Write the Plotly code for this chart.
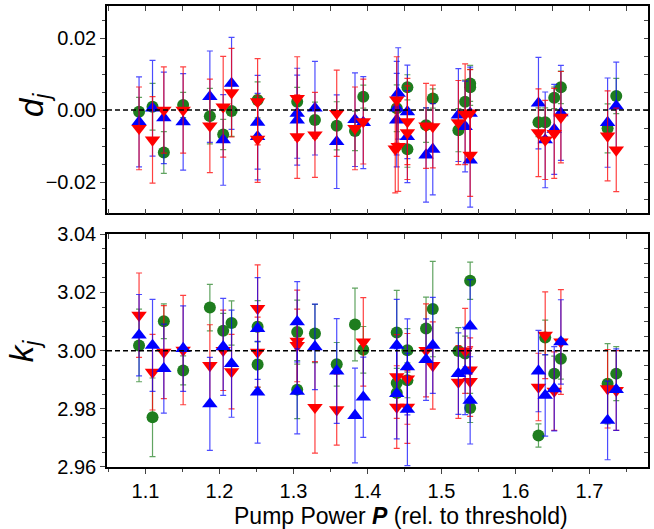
import plotly.graph_objects as go

# ---------------- data: top panel (d_j) ----------------
P_red_d = [1.0913, 1.1095, 1.1248, 1.1509, 1.187, 1.205, 1.2163, 1.2515, 1.2515, 1.305, 1.305, 1.329,
           1.3584, 1.3831, 1.3943, 1.4395, 1.4375, 1.4415, 1.4539, 1.4539, 1.4791, 1.4882, 1.5228, 1.5319,
           1.5387, 1.5387, 1.631, 1.6401, 1.6523, 1.6613, 1.7244, 1.7361]
d_red = [-0.0051, -0.0083, 0.0, 0.0, -0.0044, 0.0009, 0.0048, 0.0023, -0.0081, 0.0032, -0.0074, -0.0069,
         -0.0009, -0.0051, -0.0032, 0.0028, -0.0108, -0.0101, -0.0032, -0.0063, -0.0044, -0.0046, -0.0035, -0.0012,
         -0.0008, -0.0125, -0.0063, -0.0083, -0.0065, -0.0020, -0.0072, -0.0111]
err_red_d = [0.0115, 0.012, 0.012, 0.012, 0.013, 0.014, 0.0123, 0.012, 0.012, 0.0116, 0.0116, 0.0118,
             0.012, 0.0115, 0.0118, 0.012, 0.0122, 0.0125, 0.012, 0.013, 0.0118, 0.0115, 0.0117, 0.014,
             0.012, 0.0115, 0.0122, 0.011, 0.0125, 0.0127, 0.0125, 0.0116]

P_blue_d = [1.0913, 1.1095, 1.1248, 1.1509, 1.187, 1.205, 1.2163, 1.2515, 1.2515, 1.305, 1.305, 1.329,
            1.3584, 1.3831, 1.3943, 1.4395, 1.4395, 1.4415, 1.4539, 1.4539, 1.4791, 1.4882, 1.5228, 1.5319,
            1.5387, 1.5387, 1.631, 1.6401, 1.6523, 1.6613, 1.7244, 1.7361]
d_blue = [-0.0033, 0.0005, -0.0022, -0.0033, 0.0037, -0.0083, 0.0074, -0.0034, -0.0074, -0.0009, -0.0028, 0.0005,
          -0.0088, -0.0027, -0.0035, 0.0005, -0.0028, 0.0046, -0.0005, -0.0074, -0.0125, -0.0109, -0.0014, -0.0046,
          -0.0009, -0.0139, 0.0019, -0.0083, -0.0054, -0.0008, -0.0035, 0.0011]
err_blue_d = [0.0125, 0.0133, 0.0127, 0.0134, 0.0127, 0.0126, 0.0128, 0.013, 0.012, 0.0125, 0.0125, 0.013,
              0.013, 0.013, 0.0128, 0.013, 0.013, 0.0127, 0.013, 0.0128, 0.0131, 0.0127, 0.0129, 0.0126,
              0.0128, 0.0131, 0.0127, 0.0133, 0.0125, 0.0132, 0.0124, 0.0122]

P_green_d = [1.0913, 1.1095, 1.1248, 1.1509, 1.187, 1.205, 1.2163, 1.2515, 1.305, 1.329, 1.3584, 1.3831,
             1.3943, 1.4395, 1.4539, 1.4539, 1.4791, 1.4882, 1.5228, 1.5319, 1.5387, 1.5387, 1.631, 1.6401,
             1.6523, 1.6613, 1.7244, 1.7361]
d_green = [-0.0005, 0.0009, -0.0118, 0.0014, -0.0017, -0.0068, -0.0003, 0.0028, 0.0023, -0.0028, -0.0044, -0.0058,
           0.0037, 0.0005, 0.0063, -0.0109, -0.0042, 0.0032, -0.0056, 0.0023, 0.0074, 0.0063, -0.0034, -0.0034,
           0.0034, 0.0063, -0.0051, 0.0039]
err_green_d = [0.004, 0.0065, 0.0058, 0.0035, 0.0077, 0.0042, 0.007, 0.005, 0.004, 0.005, 0.0067, 0.0055,
               0.0032, 0.0065, 0.0035, 0.005, 0.0048, 0.0027, 0.006, 0.006, 0.005, 0.005, 0.004, 0.004,
               0.003, 0.0045, 0.0068, 0.0049]

# ---------------- data: bottom panel (k_j) ----------------
P_red_k = [1.0913, 1.1095, 1.1248, 1.1509, 1.187, 1.205, 1.2163, 1.2515, 1.2515, 1.305, 1.305, 1.329,
           1.3584, 1.3943, 1.4395, 1.4395, 1.4539, 1.4539, 1.4791, 1.4882, 1.5228, 1.5319, 1.5387, 1.5387,
           1.631, 1.6401, 1.6523, 1.6613, 1.7244, 1.7361]
k_red = [3.0122, 2.9926, 2.9995, 3.0002, 2.9949, 3.0001, 2.9928, 3.0145, 2.9995, 3.0033, 3.0018, 2.9805,
         2.9797, 3.0030, 2.9911, 2.9806, 2.9903, 2.9806, 3.0001, 2.9949, 2.9892, 2.9999, 2.9934, 2.9894,
         2.9875, 3.0053, 2.9861, 3.0030, 2.9869, 2.9863]
err_red_k = [0.0145, 0.013, 0.016, 0.0188, 0.014, 0.0138, 0.0128, 0.015, 0.012, 0.0175, 0.0125, 0.0157,
             0.0122, 0.0152, 0.0144, 0.0142, 0.0156, 0.0125, 0.016, 0.015, 0.0125, 0.0146, 0.011, 0.012,
             0.0116, 0.0149, 0.0135, 0.018, 0.0135, 0.0137]

P_blue_k = [1.0913, 1.1095, 1.1248, 1.1509, 1.187, 1.205, 1.2163, 1.2515, 1.2515, 1.305, 1.305, 1.329,
            1.3584, 1.3831, 1.3943, 1.4395, 1.4395, 1.4539, 1.4539, 1.4791, 1.4882, 1.5228, 1.5319, 1.5387,
            1.5387, 1.631, 1.6401, 1.6523, 1.6613, 1.7244, 1.7361]
k_blue = [3.0053, 3.0018, 2.9938, 3.0007, 2.9817, 3.0013, 2.9955, 3.0076, 2.9857, 3.0099, 2.9860, 3.0013,
          2.9930, 2.9777, 2.9840, 3.0018, 2.9852, 2.9944, 2.9798, 2.9969, 3.0018, 2.9921, 2.9930, 3.0084,
          2.9829, 2.9930, 2.9846, 2.9869, 3.0030, 2.9760, 2.9866]
err_blue_k = [0.014, 0.0158, 0.0153, 0.0147, 0.016, 0.0167, 0.0184, 0.0175, 0.0175, 0.0138, 0.0146, 0.0147,
              0.018, 0.0163, 0.0138, 0.0158, 0.0155, 0.0165, 0.0193, 0.014, 0.0165, 0.014, 0.015, 0.016,
              0.015, 0.014, 0.014, 0.0145, 0.0145, 0.0135, 0.014]

P_green_k = [1.0913, 1.1095, 1.1248, 1.1509, 1.187, 1.205, 1.2163, 1.2515, 1.2515, 1.305, 1.305, 1.329,
             1.3584, 1.3831, 1.3943, 1.4395, 1.4395, 1.4395, 1.4539, 1.4539, 1.4791, 1.4882, 1.5228, 1.5319,
             1.5387, 1.5387, 1.631, 1.6401, 1.6523, 1.6613, 1.7244, 1.7361]
k_green = [3.0018, 2.9771, 3.0101, 2.9932, 3.0148, 3.0068, 3.0095, 3.0082, 2.9952, 3.0064, 2.9866, 3.0059,
           2.9953, 3.0090, 3.0003, 3.0062, 2.9889, 2.9854, 3.0001, 2.9898, 3.0076, 3.0143, 2.9999, 2.9990,
           3.0240, 2.9803, 2.9708, 3.0045, 2.9921, 2.9972, 2.9886, 2.9921]
err_green_k = [0.0125, 0.0135, 0.006, 0.005, 0.008, 0.006, 0.0076, 0.009, 0.0078, 0.011, 0.01, 0.01,
               0.0075, 0.0125, 0.008, 0.0145, 0.005, 0.005, 0.0075, 0.006, 0.0108, 0.0164, 0.008, 0.006,
               0.0064, 0.005, 0.004, 0.006, 0.006, 0.007, 0.0138, 0.0093]

ref_d = 0.0
ref_k = 3.0
x_range = [1.048, 1.779]
d_range = [-0.0287, 0.0289]
k_range = [2.96, 3.04]

RED = "#ff0000"
BLUE = "#0000ff"
GREEN = "#1e7d1e"
ERR = {RED: "rgba(255,0,0,0.75)", BLUE: "rgba(0,0,255,0.7)", GREEN: "rgba(30,125,30,0.7)"}
FONT = "Liberation Sans, Arial, sans-serif"

fig = go.Figure()


def add(P, v, e, color, symbol, size, xa, ya):
    fig.add_trace(go.Scatter(
        x=P, y=v, mode="markers", xaxis=xa, yaxis=ya, showlegend=False,
        marker=dict(color=color, symbol=symbol, size=size, line=dict(width=0)),
        error_y=dict(type="data", array=e, visible=True, color=ERR[color], thickness=1.2, width=3),
    ))


# top panel: green, blue, red (red on top)
add(P_green_d, d_green, err_green_d, GREEN, "circle", 12, "x", "y")
add(P_blue_d, d_blue, err_blue_d, BLUE, "triangle-up", 13.5, "x", "y")
add(P_red_d, d_red, err_red_d, RED, "triangle-down", 13.5, "x", "y")
# bottom panel: green, red, blue (blue on top)
add(P_green_k, k_green, err_green_k, GREEN, "circle", 12, "x2", "y2")
add(P_red_k, k_red, err_red_k, RED, "triangle-down", 13.5, "x2", "y2")
add(P_blue_k, k_blue, err_blue_k, BLUE, "triangle-up", 13.5, "x2", "y2")

# empty traces to activate mirror-tick overlay axes
for xa, ya in [("x3", "y2"), ("x", "y3"), ("x2", "y4")]:
    fig.add_trace(go.Scatter(x=[], y=[], xaxis=xa, yaxis=ya, showlegend=False, hoverinfo="skip"))

# dashed reference lines
for ya, val in [("y", ref_d), ("y2", ref_k)]:
    fig.add_shape(type="line", xref="x domain" if ya == "y" else "x2 domain", yref=ya,
                  x0=0, x1=1, y0=val, y1=val, line=dict(color="black", width=1.5, dash="5px,3px"))

TOP = [0.5503, 1.0]
BOT = [0.0, 0.5048]
tickfont = dict(family=FONT, size=20, color="black")
axline = dict(showline=True, linecolor="black", linewidth=1.5, showgrid=False, zeroline=False, automargin=False)
plain = dict(showgrid=False, zeroline=False, showline=False, automargin=False, showticklabels=False)

fig.update_layout(
    template="none",
    width=654, height=529,
    margin=dict(l=107, r=6, t=6, b=62, autoexpand=False),
    paper_bgcolor="white", plot_bgcolor="white",
    font=dict(family=FONT, color="black"),
    xaxis=dict(domain=[0, 1], anchor="y", range=x_range, dtick=0.05, tick0=1.0,
               ticks="inside", ticklen=5, tickwidth=1, mirror="ticks", showticklabels=False, **axline),
    yaxis=dict(domain=TOP, anchor="x", range=d_range, dtick=0.02, tick0=0, ticks="outside", ticklen=5,
               tickformat=".2f", tickfont=tickfont, mirror=True,
               minor=dict(dtick=0.005, tick0=0, ticks="outside", ticklen=3), **axline),
    yaxis3=dict(overlaying="y", side="right", anchor="x", range=d_range, dtick=0.005, tick0=0,
                ticks="inside", ticklen=4, **plain),
    xaxis2=dict(domain=[0, 1], anchor="y2", range=x_range, dtick=0.1, tick0=1.0, ticks="outside", ticklen=5,
                tickformat=".1f", tickfont=tickfont, mirror=True,
                minor=dict(dtick=0.05, tick0=1.0, ticks="outside", ticklen=3), **axline),
    xaxis3=dict(overlaying="x2", side="top", anchor="y2", range=x_range, dtick=0.05, tick0=1.0,
                ticks="inside", ticklen=5, **plain),
    yaxis2=dict(domain=BOT, anchor="x2", range=k_range, dtick=0.02, tick0=3.0, ticks="outside", ticklen=5,
                tickformat=".2f", tickfont=tickfont, mirror=True,
                minor=dict(dtick=0.005, tick0=3.0, ticks="outside", ticklen=3), **axline),
    yaxis4=dict(overlaying="y2", side="right", anchor="x2", range=k_range, dtick=0.005, tick0=3.0,
                ticks="inside", ticklen=4, **plain),
)

fig.add_annotation(text="Pump Power <b><i>P</i></b> (rel. to threshold)", xref="paper", yref="paper",
                   x=0.543, y=-0.106, xanchor="center", yanchor="middle", showarrow=False,
                   font=dict(family=FONT, size=23, color="black"))
fig.add_annotation(text="<i>d</i><sub><i>j</i></sub>", xref="paper", yref="paper",
                   x=-0.135, y=0.785, xanchor="center", yanchor="middle", textangle=-90, showarrow=False,
                   font=dict(family=FONT, size=33, color="black"))
fig.add_annotation(text="<i>k</i><sub><i>j</i></sub>", xref="paper", yref="paper",
                   x=-0.152, y=0.253, xanchor="center", yanchor="middle", textangle=-90, showarrow=False,
                   font=dict(family=FONT, size=33, color="black"))

fig.write_html("out.html", config={"displayModeBar": False},
               post_script="document.body.style.margin='0';document.body.style.overflow='hidden';")
